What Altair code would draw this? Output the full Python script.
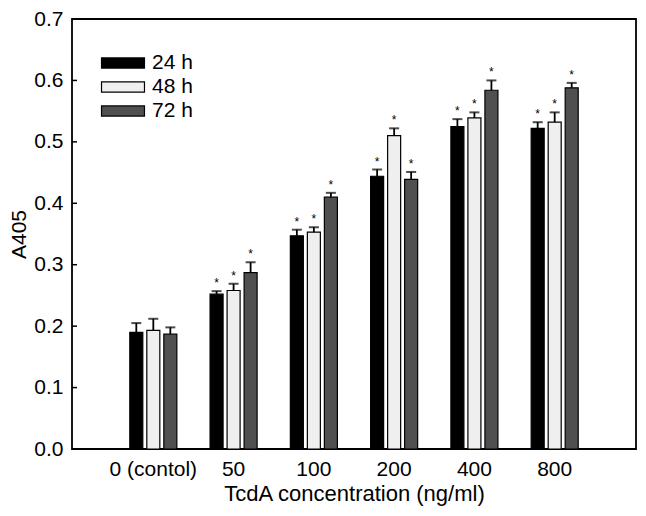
import altair as alt
import pandas as pd

conc = ["0 (contol)", "50", "100", "200", "400", "800"]
series = ["24 h", "48 h", "72 h"]
h24 = [0.190, 0.252, 0.347, 0.444, 0.525, 0.522]
h48 = [0.193, 0.258, 0.353, 0.510, 0.539, 0.532]
h72 = [0.187, 0.287, 0.410, 0.439, 0.584, 0.588]
err24 = [0.015, 0.005, 0.010, 0.011, 0.012, 0.010]
err48 = [0.019, 0.011, 0.008, 0.012, 0.009, 0.016]
err72 = [0.011, 0.017, 0.007, 0.012, 0.016, 0.008]
star = [False, True, True, True, True, True]
colors = ["#000000", "#efefef", "#505050"]
y_ticks = [0.0, 0.1, 0.2, 0.3, 0.4, 0.5, 0.6, 0.7]

rows = []
for s, vals, errs in zip(series, [h24, h48, h72], [err24, err48, err72]):
    for c, v, e, st in zip(conc, vals, errs, star):
        rows.append({"conc": c, "time": s, "value": v, "top": v + e, "star": "*" if st else ""})
df = pd.DataFrame(rows)
tick_df = pd.DataFrame({"t": y_ticks})

FONT = "Liberation Sans"
FS = 21

x_enc = alt.X("conc:N", sort=conc, title="TcdA concentration (ng/ml)",
              scale=alt.Scale(paddingInner=0.414, paddingOuter=0.72),
              axis=alt.Axis(labelAngle=0, ticks=False, domain=False, labelPadding=9,
                            titlePadding=4, titleFontSize=22))
xo_enc = alt.XOffset("time:N", sort=series, scale=alt.Scale(paddingInner=0.235, paddingOuter=0))
y_scale = alt.Scale(domain=[0, 0.7], nice=False, zero=True)

bars = alt.Chart(df).mark_bar(stroke="black", strokeWidth=1.2).encode(
    x=x_enc,
    xOffset=xo_enc,
    y=alt.Y("value:Q", scale=y_scale, title="A405",
            axis=alt.Axis(values=y_ticks, format=".1f", ticks=False, domain=False,
                          grid=False, labelPadding=9, titlePadding=4)),
    color=alt.Color("time:N", sort=series,
                    scale=alt.Scale(domain=series, range=colors),
                    legend=alt.Legend(title=None, orient="none", legendX=38, legendY=31,
                                      symbolType="M-1.79,-0.42H1.79V0.42H-1.79Z",
                                      symbolSize=576, symbolStrokeColor="black",
                                      symbolStrokeWidth=1.2, symbolOpacity=1,
                                      labelFontSize=FS, labelFont=FONT, labelOffset=16,
                                      rowPadding=1, padding=0, labelColor="black")),
)

err_rule = alt.Chart(df).mark_rule(color="black", strokeWidth=1.8).encode(
    x=alt.X("conc:N", sort=conc),
    xOffset=alt.XOffset("time:N", sort=series),
    y="value:Q",
    y2="top:Q",
)
caps = alt.Chart(df).mark_tick(color="black", thickness=2, size=10, orient="horizontal").encode(
    x=alt.X("conc:N", sort=conc),
    xOffset=alt.XOffset("time:N", sort=series),
    y="top:Q",
)
stars = alt.Chart(df).mark_text(baseline="bottom", dy=-1, fontSize=12, font=FONT,
                                color="black", fill="black").encode(
    x=alt.X("conc:N", sort=conc),
    xOffset=alt.XOffset("time:N", sort=series),
    y="top:Q",
    text="star:N",
)
inticks = alt.Chart(tick_df).mark_rule(color="black", strokeWidth=1.5).encode(
    y="t:Q",
    x=alt.value(0),
    x2=alt.value(5),
)

chart = alt.layer(bars, err_rule, caps, stars, inticks).properties(
    width=564, height=430,
    padding={"left": 64, "top": 11, "right": 2, "bottom": 59},
    autosize="none",
).configure_view(
    stroke="black", strokeWidth=1.8
).configure_axis(
    labelFont=FONT, titleFont=FONT, labelFontSize=FS, titleFontSize=FS,
    labelColor="black", titleColor="black", titleFontWeight="normal", grid=False
)

chart.save("out.html", embed_options={"renderer": "svg", "actions": False})
